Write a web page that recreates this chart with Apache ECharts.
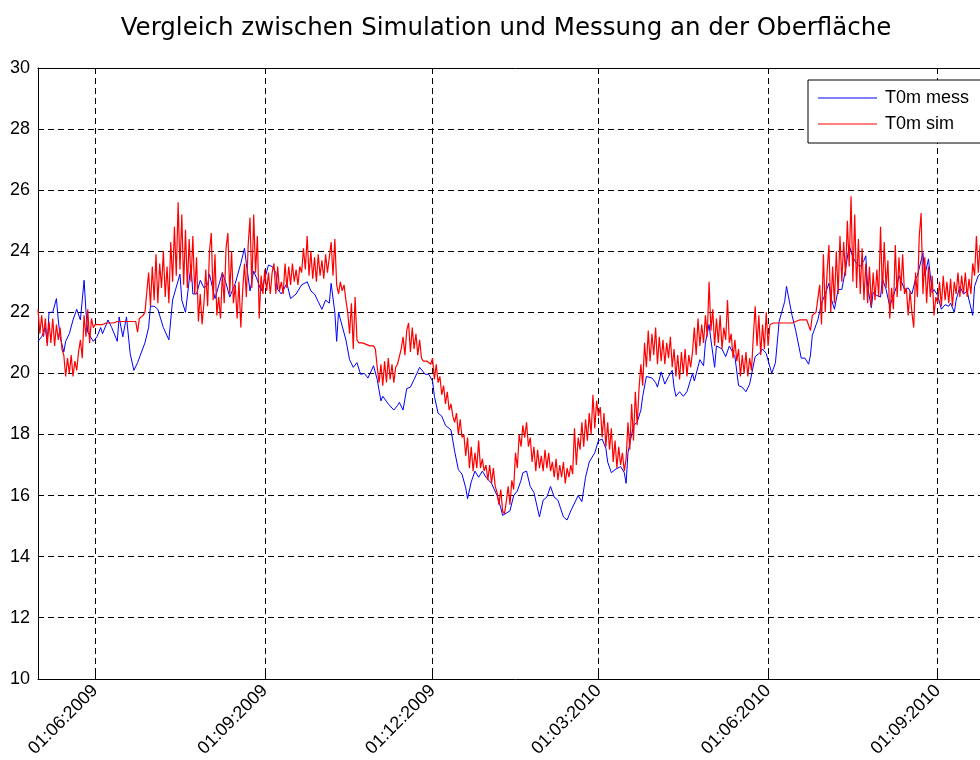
<!DOCTYPE html>
<html>
<head>
<meta charset="utf-8">
<title>Vergleich zwischen Simulation und Messung an der Oberfläche</title>
<script src="https://cdn.jsdelivr.net/npm/echarts@6/dist/echarts.min.js"></script>
<style>
    html, body { margin: 0; padding: 0; background: #fff; overflow: hidden; }
    #chart { width: 1012px; height: 760px; }
</style>
</head>
<body>
<div id="chart"></div>
<script>
const DAY = 86400000;

// x range and the dates that get a tick / label
const startDate = '2009-05-01';
const endDate = '2010-10-01';
const tickDates = ['2009-06-01', '2009-09-01', '2009-12-01', '2010-03-01', '2010-06-01', '2010-09-01'];

// y axis
const yMin = 10;
const yMax = 30;
const yStep = 2;

const seriesNames = ['T0m mess', 'T0m sim'];

// measured temperature: [days after startDate, value]
const messReadings = [
    [0,21.05],[2,21.2],[4,21.5],[5,21.0],[6,22.0],[8,22.0],[10,22.45],[11,21.75],[12,21.2],[14,20.7],
    [15,21.05],[16,21.0],[17,21.3],[19,21.75],[21,22.1],[23,21.75],[25,23.05],[26,22.05],[27,21.35],[30,21.05],
    [32,21.2],[34,21.5],[35,21.3],[38,21.75],[40,21.5],[43,21.05],[44,21.85],[46,21.2],[48,21.85],[50,20.65],
    [52,20.1],[54,20.35],[55,20.4],[58,21.0],[60,21.5],[61,22.2],[63,22.2],[65,22.1],[68,21.5],[71,21.1],
    [73,22.4],[77,23.25],[78,22.4],[80,22.0],[82,23.05],[83,23.55],[84,22.6],[86,22.6],[88,23.05],[90,22.8],
    [92,22.9],[93,23.25],[96,22.45],[100,23.3],[102,22.95],[104,22.5],[107,22.95],[110,23.6],[112,24.1],[113,23.6],
    [115,22.7],[117,23.35],[119,23.05],[121,22.7],[123,23.1],[125,23.55],[127,23.5],[129,23.3],[130,22.75],[132,22.6],
    [135,22.95],[137,22.45],[140,22.6],[143,22.9],[146,23.0],[148,22.7],[150,22.6],[152,22.35],[154,22.1],[156,22.4],
    [158,22.3],[159,22.95],[161,22.0],[162,21.05],[163,22.0],[164,21.95],[167,21.1],[169,20.45],[171,20.2],[173,20.35],
    [175,19.97],[177,20.0],[179,19.85],[182,20.25],[184,19.8],[186,19.1],[187,19.25],[190,19.0],[193,18.8],[195,18.95],
    [196,19.05],[198,18.8],[200,19.5],[202,19.55],[204,19.8],[205,19.75],[207,20.2],[210,19.97],[212,19.97],[214,19.75],
    [215,19.25],[217,18.7],[219,18.6],[221,18.3],[224,18.15],[226,17.45],[228,16.85],[230,16.7],[232,16.25],[233,15.9],
    [235,16.45],[237,16.8],[239,16.6],[241,16.8],[243,16.6],[244,16.65],[246,16.4],[249,16.0],[251,15.6],[252,15.35],
    [256,15.5],[258,16.0],[260,16.15],[262,16.5],[263,16.75],[265,16.8],[267,16.3],[269,16.1],[272,15.3],[274,15.85],
    [276,15.95],[278,16.3],[280,15.95],[282,15.85],[285,15.3],[287,15.2],[289,15.5],[290,15.5],[293,16.0],[295,15.8],
    [297,16.6],[299,17.1],[302,17.4],[304,17.8],[306,17.85],[308,17.55],[309,17.1],[311,16.75],[313,16.85],[316,16.95],
    [318,16.75],[319,16.4],[320,17.4],[323,18.3],[325,18.4],[327,18.8],[328,19.25],[330,19.9],[333,19.85],[335,19.7],
    [336,19.55],[338,20.05],[340,19.65],[342,19.9],[344,20.1],[345,19.55],[346,19.25],[348,19.4],[350,19.25],[352,19.4],
    [355,20.0],[356,19.75],[359,20.45],[361,20.25],[362,21.0],[364,21.6],[365,21.1],[367,20.2],[368,20.9],[371,20.8],
    [373,20.55],[375,20.9],[378,20.55],[380,19.6],[382,19.55],[384,19.4],[386,19.65],[389,20.55],[392,20.7],[393,20.8],
    [395,20.65],[398,20.0],[400,20.35],[402,21.7],[405,22.35],[406,22.85],[409,21.9],[411,21.4],[414,20.5],[416,20.5],
    [418,20.3],[419,20.6],[420,21.25],[423,21.75],[425,22.3],[427,22.6],[429,22.95],[430,22.5],[432,22.1],[434,22.75],
    [436,22.75],[438,23.4],[440,24.2],[442,23.8],[444,23.6],[446,23.5],[448,23.7],[449,23.85],[450,22.85],[452,22.15],
    [453,22.65],[455,22.55],[457,22.5],[458,23.1],[460,22.75],[462,22.2],[464,22.55],[466,22.9],[467,23.2],[470,22.75],
    [472,22.8],[474,22.6],[476,23.1],[477,23.2],[480,23.95],[481,23.2],[483,23.75],[485,22.65],[486,22.75],[488,22.55],
    [490,22.1],[492,22.25],[494,22.2],[495,22.3],[497,22.0],[498,22.4],[500,22.85],[502,22.6],[504,22.7],[505,22.4],
    [507,21.9],[508,22.85],[510,23.2],[512,23.3],[515,23.0],[518,23.1]
];

// simulated temperature, one value per day from startDate
const simTemp = [
    22.1, 21.3, 21.9, 21.2, 21.8, 20.9, 21.7, 21.0, 21.8, 20.9,
    21.6, 21.1, 21.5, 20.8, 20.6, 19.9, 20.5, 20.0, 20.6, 19.9,
    20.4, 20.1, 20.7, 21.1, 20.5, 21.9, 21.2, 22.1, 21.0, 21.8,
    21.5, 21.6, 21.6, 21.6, 21.6, 21.6, 21.65, 21.65, 21.65, 21.65,
    21.65, 21.65, 21.7, 21.7, 21.7, 21.7, 21.7, 21.7, 21.7, 21.7,
    21.7, 21.7, 21.7, 21.7, 21.35, 21.8, 21.85, 21.9, 22.0, 22.0,
    23.3, 22.2, 23.5, 22.4, 23.9, 22.3, 23.6, 22.8, 24.0, 22.5,
    23.5, 22.3, 24.3, 23.0, 24.8, 23.2, 25.6, 23.4, 25.2, 22.9,
    24.7, 22.8, 24.4, 23.0, 24.5, 22.6, 23.8, 21.7, 22.6, 21.6,
    22.3, 23.4, 22.2, 24.0, 24.6, 22.4, 23.9, 21.9, 22.5, 21.8,
    23.3, 22.3, 24.1, 24.6, 22.6, 24.0, 22.3, 22.9, 21.8, 23.0,
    21.5, 22.7, 23.6, 22.5, 24.2, 25.1, 22.8, 25.2, 23.3, 24.5,
    21.8, 23.2, 22.6, 23.4, 22.7, 23.3, 22.6, 23.3, 23.6, 22.6,
    23.5, 22.7, 23.0, 22.6, 23.6, 22.8, 23.5, 22.9, 23.6, 23.0,
    23.4, 22.9, 23.5, 23.3, 24.1, 23.4, 24.5, 23.2, 24.0, 23.1,
    23.8, 23.0, 23.9, 23.2, 23.7, 23.1, 23.9, 23.3, 23.8, 24.3,
    23.2, 24.4, 22.9, 22.6, 23.0, 22.7, 22.9, 22.4, 22.0, 21.3,
    22.3, 20.8, 22.5, 21.1, 21.0, 21.0, 21.0, 21.0, 20.95, 20.95,
    20.9, 20.9, 20.9, 20.8, 20.2, 19.7, 20.3, 19.6, 20.4, 19.7,
    20.5, 19.8, 20.3, 19.7, 20.2, 20.3, 20.3, 20.8, 21.2, 20.6,
    21.4, 21.65, 20.7, 21.5, 20.8, 21.3, 20.6, 21.1, 20.5, 20.4,
    20.4, 20.4, 20.4, 20.3, 20.5, 19.8, 20.3, 19.7, 19.9, 19.3,
    19.6, 19.0, 19.4, 18.8, 19.0, 18.6, 18.4, 18.7, 18.0, 18.5,
    17.9, 18.0, 17.3, 17.9, 16.9, 17.6, 16.8, 17.4, 16.9, 17.8,
    16.9, 17.2, 16.8, 17.0, 16.5, 17.0, 16.4, 16.9, 16.3, 16.1,
    15.7, 16.2, 15.5, 15.4, 15.8, 16.3, 15.7, 16.5, 16.2, 17.4,
    16.9, 18.0, 17.6, 18.3, 17.9, 18.4, 17.6, 17.9, 17.1, 17.6,
    16.8, 17.5, 16.9, 17.3, 16.8, 17.5, 16.9, 17.4, 16.8, 17.1,
    16.6, 17.2, 16.5, 17.0, 16.6, 17.1, 16.4, 16.9, 16.6, 17.0,
    16.7, 18.2, 17.0, 17.9, 17.5, 18.4, 17.6, 18.5, 17.8, 18.7,
    18.0, 19.3, 18.2, 19.1, 18.6, 18.9, 17.9, 18.7, 17.6, 18.4,
    17.5, 18.2, 17.1, 17.8, 16.9, 17.6, 17.0, 17.4, 16.8, 17.2,
    18.4, 17.5, 19.0, 17.8, 19.4, 18.3, 19.5, 20.3, 19.6, 21.0,
    20.2, 21.4, 20.4, 21.3, 20.6, 21.5, 20.3, 21.2, 20.4, 21.1,
    20.3, 21.0, 20.5, 21.2, 20.2, 20.8, 19.9, 20.6, 19.8, 20.7,
    20.0, 20.8, 19.9, 20.6, 20.2, 20.7, 21.5, 20.6, 21.8, 20.9,
    21.6, 21.0, 21.9, 21.2, 23.0, 21.4, 22.1, 20.9, 21.8, 21.0,
    21.9, 20.8, 21.5, 21.1, 22.4, 21.0, 21.3, 20.5, 21.1, 20.4,
    20.8, 19.9, 20.6, 20.0, 20.7, 19.9, 20.5, 20.1, 21.2, 22.2,
    20.9, 21.9, 20.6, 21.6, 20.8, 22.0, 20.9, 21.6, 21.65, 21.65,
    21.65, 21.65, 21.65, 21.65, 21.65, 21.65, 21.65, 21.65, 21.65, 21.65,
    21.7, 21.7, 21.7, 21.75, 21.75, 21.75, 21.75, 21.75, 21.75, 21.4,
    21.9, 21.95, 22.0, 22.0, 22.9, 21.6, 23.9, 22.0, 23.3, 24.2,
    22.0, 23.5, 22.3, 24.0, 22.6, 24.5, 23.0, 24.3, 23.2, 25.0,
    23.5, 25.8, 23.0, 25.2, 22.8, 24.4, 22.6, 24.1, 22.4, 23.6,
    22.3, 23.5, 22.2, 23.3, 22.4, 23.4, 22.5, 24.8, 22.6, 24.3,
    22.8, 23.7, 21.8, 22.8, 22.1, 24.2, 22.5, 23.8, 22.7, 23.9,
    22.6, 22.8, 21.9, 22.7, 22.0, 21.5, 23.3, 22.5, 24.5, 25.25,
    22.6, 23.8, 22.3, 23.5, 22.5, 23.2, 21.9, 22.5, 22.3, 23.0,
    22.2, 23.2, 22.4, 23.0, 22.3, 23.1, 22.2, 23.0, 22.6, 23.3,
    22.5, 23.2, 22.6, 23.3, 22.5, 23.1, 22.6, 23.6, 23.2, 24.5,
    23.3, 24.2, 23.4, 24.0, 23.2, 23.8, 23.5, 24.1, 23.6
];

function toTime(s) {
    let p = s.split('-').map(Number);
    return Date.UTC(p[0], p[1] - 1, p[2]);
}
function pad(n) { return (n < 10 ? '0' : '') + n; }
function dateLabel(v) {
    let d = new Date(v);
    return pad(d.getUTCDate()) + ':' + pad(d.getUTCMonth() + 1) + ':' + d.getUTCFullYear();
}

const t0 = toTime(startDate);
const tickValues = tickDates.map(toTime);
const messData = messReadings.map(function (r) { return [t0 + r[0] * DAY, r[1]]; });
const simData = simTemp.map(function (v, i) { return [t0 + i * DAY, v]; });

const labelFont = 'Liberation Sans, Arial, sans-serif';
const gridDash = { type: [6, 4], color: '#000', width: 1 };

var option = {
    backgroundColor: '#fff',
    animation: false,
    title: {
        text: 'Vergleich zwischen Simulation und Messung an der Oberfläche',
        left: 'center',
        top: 16,
        padding: 0,
        textStyle: { fontFamily: 'DejaVu Sans', fontSize: 24.5, fontWeight: 'normal', color: '#000' }
    },
    legend: {
        orient: 'vertical',
        left: 808,
        top: 80,
        padding: [9, 20, 10, 10],
        itemGap: 8,
        itemWidth: 59,
        itemHeight: 1,
        backgroundColor: '#fff',
        borderColor: '#000',
        borderWidth: 1,
        selectedMode: false,
        textStyle: { fontFamily: labelFont, fontSize: 18, color: '#000', padding: [0, 0, 0, 3] },
        data: [
            { name: seriesNames[0], icon: 'rect' },
            { name: seriesNames[1], icon: 'rect' }
        ]
    },
    grid: { left: 38, right: 19, top: 68, bottom: 80 },
    xAxis: [
        {
            type: 'value',
            min: t0,
            max: toTime(endDate),
            axisLine: { lineStyle: { color: '#000', width: 1 } },
            axisTick: { inside: true, length: 6, customValues: tickValues, lineStyle: { color: '#000' } },
            axisLabel: {
                customValues: tickValues,
                rotate: 45,
                margin: 9,
                formatter: dateLabel,
                fontFamily: labelFont,
                fontSize: 18,
                color: '#000'
            },
            splitLine: { show: true, lineStyle: gridDash }
        },
        {
            type: 'value',
            position: 'top',
            min: t0,
            max: toTime(endDate),
            axisLine: { lineStyle: { color: '#000', width: 1 } },
            axisTick: { inside: true, length: 6, customValues: tickValues, lineStyle: { color: '#000' } },
            axisLabel: { show: false },
            splitLine: { show: false }
        }
    ],
    yAxis: [
        {
            type: 'value',
            min: yMin,
            max: yMax,
            interval: yStep,
            axisLine: { show: true, lineStyle: { color: '#000', width: 1 } },
            axisTick: { show: true, inside: true, length: 6, lineStyle: { color: '#000' } },
            axisLabel: { margin: 8, fontFamily: labelFont, fontSize: 18, color: '#000' },
            splitLine: { show: true, lineStyle: gridDash }
        },
        {
            type: 'value',
            position: 'right',
            min: yMin,
            max: yMax,
            interval: yStep,
            axisLine: { show: true, lineStyle: { color: '#000', width: 1 } },
            axisTick: { show: true, inside: true, length: 6, lineStyle: { color: '#000' } },
            axisLabel: { show: false },
            splitLine: { show: false }
        }
    ],
    series: [
        {
            name: seriesNames[0],
            type: 'line',
            data: messData,
            showSymbol: false,
            symbol: 'none',
            color: '#0000ff',
            lineStyle: { color: '#0000ff', width: 1 }
        },
        {
            name: seriesNames[1],
            type: 'line',
            data: simData,
            showSymbol: false,
            symbol: 'none',
            color: '#ff0000',
            lineStyle: { color: '#ff0000', width: 1.2 }
        }
    ]
};

var chart = echarts.init(document.getElementById('chart'), null, { renderer: 'canvas' });
chart.setOption(option);
</script>
</body>
</html>
